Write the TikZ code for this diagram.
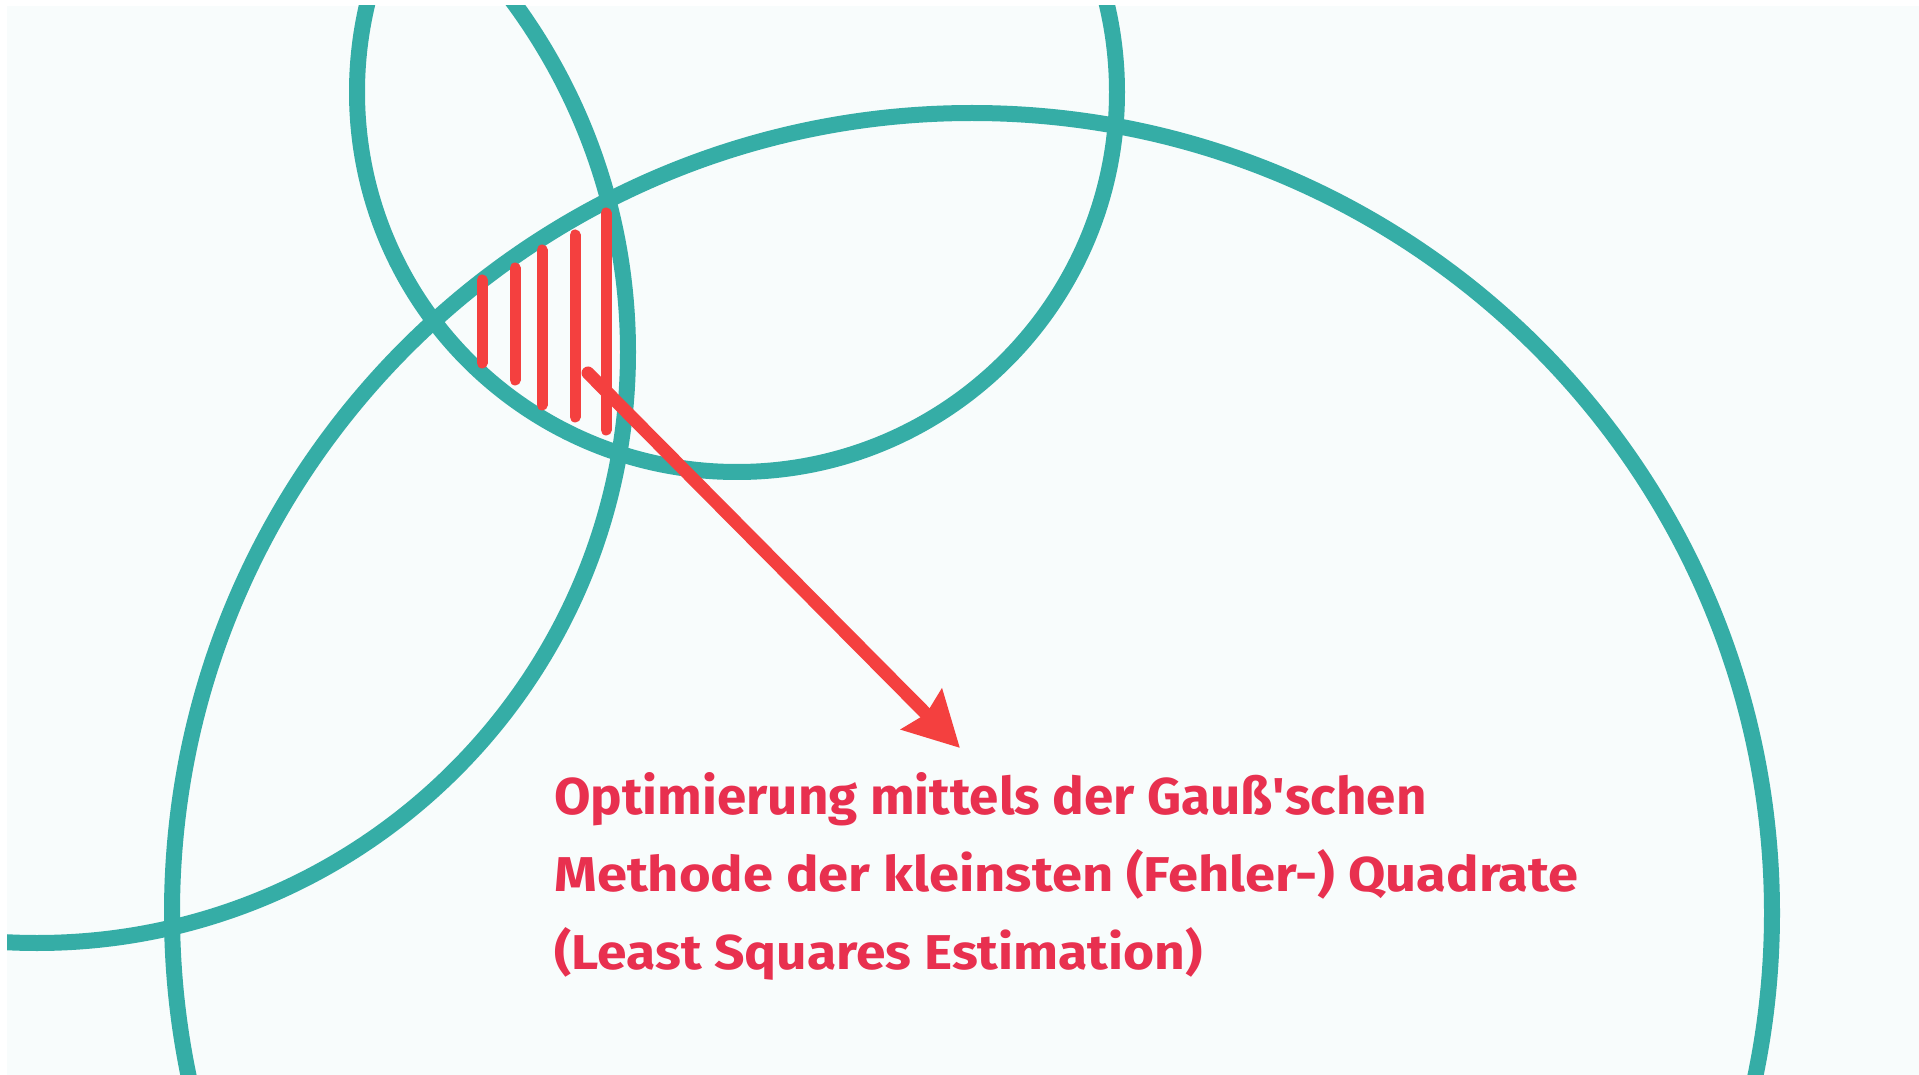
\documentclass[tikz,border=0pt]{standalone}
\usepackage{fontspec}
\usepackage{graphicx}
\usetikzlibrary{arrows.meta}
\newfontfamily\lblfont{Fira Sans}
\definecolor{teal1}{HTML}{35ADA6}
\definecolor{hatchred}{HTML}{F4403F}
\definecolor{textred}{HTML}{E8304F}
\definecolor{bgpaper}{HTML}{F8FCFC}
\tikzset{
  ring/.style={draw=teal1, line width=8pt},
  hatchline/.style={draw=hatchred, line width=5.5pt, line cap=round},
  pointer/.style={draw=hatchred, line width=6.5pt, line cap=round,
    -{Stealth[length=27pt,width=28pt,inset=3pt]}},
  label/.style={anchor=base west, inner sep=0pt, text=textred, font=\lblfont\bfseries}
}
\begin{document}
\begin{tikzpicture}[x=0.5pt,y=-0.5pt]
\useasboundingbox (0,0) rectangle (1919,1075);
\fill[white] (0,0) rectangle (1919,1075);
\fill[bgpaper] (7,6) rectangle (1919,1075);
\begin{scope}
\clip (7,6) rectangle (1919,1075);
\draw[ring] (737,92) circle[radius=380];
\draw[ring] (972,913) circle[radius=800];
\draw[ring] (37,352) circle[radius=591];
\end{scope}
% hatching
\draw[hatchline] (482,280) -- (482,363);
\draw[hatchline] (515,268) -- (515,380);
\draw[hatchline] (542,250) -- (542,405);
\draw[hatchline] (575,235) -- (575,417);
\draw[hatchline] (606,213) -- (606,430);
% arrow
\coordinate (astart) at (588,373);
\coordinate (atip) at (960,748);
\draw[pointer] (astart) -- (atip);
% text
\node[label] (l1) at (554,814) {\resizebox{436pt}{21pt}{Optimierung mittels der Gauß\textquotesingle schen}};
\node[label] (l2) at (554,891) {\resizebox{512pt}{21pt}{Methode der kleinsten (Fehler-) Quadrate}};
\node[label] (l3) at (554,969) {\resizebox{324pt}{21pt}{(Least Squares Estimation)}};
\end{tikzpicture}
\end{document}
